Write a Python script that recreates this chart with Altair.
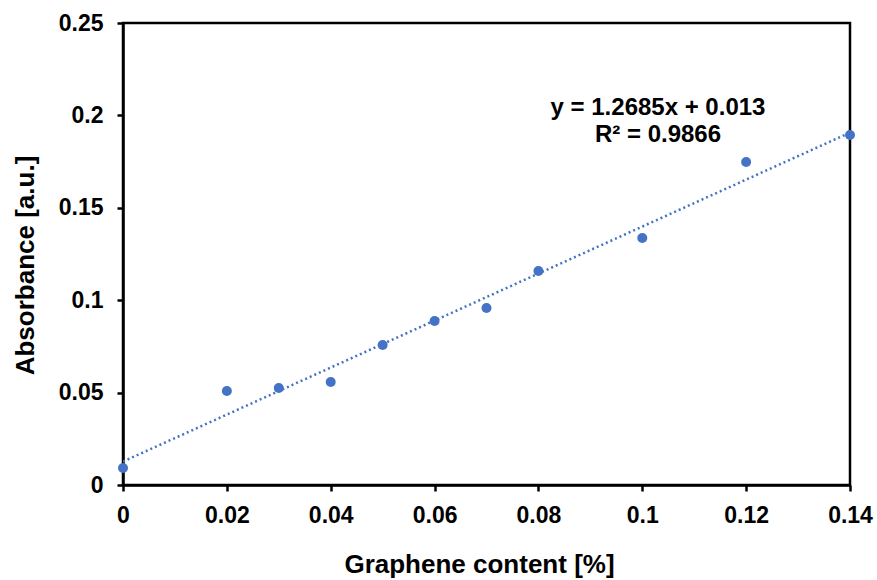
import altair as alt
import pandas as pd

graphene = [0.0, 0.02, 0.03, 0.04, 0.05, 0.06, 0.07, 0.08, 0.10, 0.12, 0.14]
absorbance = [0.0092, 0.0509, 0.0525, 0.0557, 0.0758, 0.0887, 0.0958, 0.1158, 0.1337, 0.1748, 0.1894]
eq_lines = ["y = 1.2685x + 0.013", "R² = 0.9866"]
x_ticks = [0, 0.02, 0.04, 0.06, 0.08, 0.1, 0.12, 0.14]
y_ticks = [0, 0.05, 0.1, 0.15, 0.2, 0.25]

df = pd.DataFrame({"x": graphene, "y": absorbance})
FONT = "Liberation Sans"
BLUE = "#4472C4"

xs = alt.Scale(domain=[0, 0.14], nice=False, zero=False)
ys = alt.Scale(domain=[0, 0.25], nice=False, zero=False)

xax = alt.Axis(values=x_ticks, format="~g", title="Graphene content [%]",
               grid=False, labelPadding=13, titlePadding=24, labelFlush=False,
               labelOverlap=False, titleX=356)
yax = alt.Axis(values=y_ticks, format="~g", title="Absorbance [a.u.]",
               grid=False, labelPadding=14, titlePadding=20, titleY=242)

base = alt.Chart(df)

trend = base.transform_regression("x", "y", extent=[0, 0.14]).mark_line(
    color=BLUE, strokeDash=[2, 3], strokeWidth=2.5, clip=True
).encode(x=alt.X("x:Q", scale=xs, axis=xax), y=alt.Y("y:Q", scale=ys, axis=yax))

pts = base.mark_circle(size=100, color=BLUE, opacity=1).encode(
    x=alt.X("x:Q", scale=xs), y=alt.Y("y:Q", scale=ys)
)

ann = alt.Chart(pd.DataFrame({"t": [eq_lines]})).mark_text(
    font=FONT, fontSize=24, fontWeight="bold", color="black", align="center",
    baseline="middle", lineHeight=27
).encode(text="t:N", x=alt.value(535), y=alt.value(85))

chart = alt.layer(trend, pts, ann).properties(
    width=727, height=462,
    background="white",
    autosize=alt.AutoSizeParams(type="none"),
    padding={"left": 123, "top": 23, "right": 27, "bottom": 95},
).configure_view(stroke="black", strokeWidth=2.5).configure_axis(
    domainColor="black", domainWidth=2.5, tickColor="black", tickWidth=2.5,
    tickSize=6, labelFont=FONT, labelFontSize=23, labelFontWeight="bold",
    labelColor="black", titleFont=FONT, titleFontSize=26, titleFontWeight="bold",
    titleColor="black"
)

chart.save("out.html", embed_options={"renderer": "svg", "actions": False})
